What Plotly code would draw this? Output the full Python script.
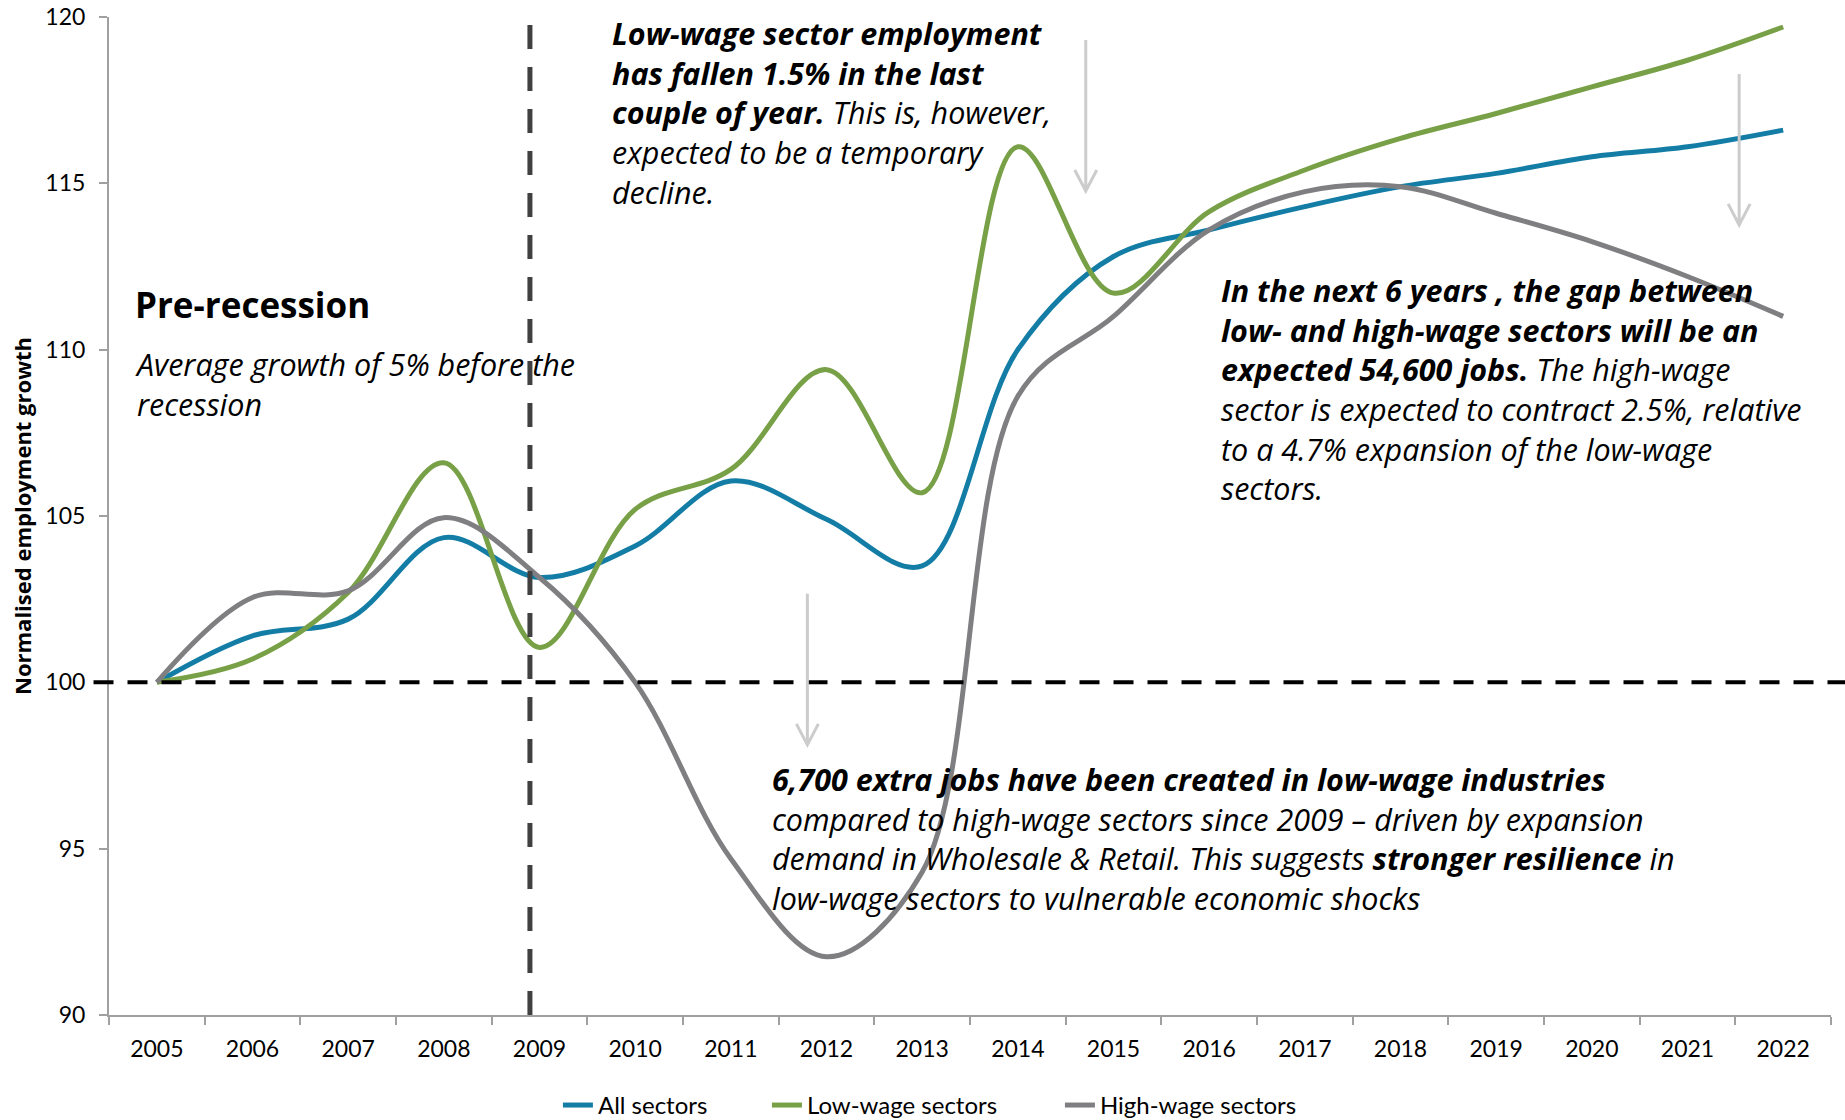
import plotly.graph_objects as go

# Normalised employment index (2005 = 100) and projections to 2022
years = [str(y) for y in range(2005, 2023)]
all_sectors = [100.0, 101.4, 101.9, 104.35, 103.15, 104.1, 106.05, 104.9, 103.5,
               110.0, 112.8, 113.6, 114.3, 114.9, 115.3, 115.8, 116.1, 116.6]
low_wage = [100.0, 100.7, 102.7, 106.6, 101.05, 105.2, 106.4, 109.4, 105.7,
            116.1, 111.7, 114.15, 115.4, 116.35, 117.1, 117.9, 118.7, 119.7]
high_wage = [100.0, 102.55, 102.75, 104.95, 103.15, 100.0, 94.7, 91.75, 94.3,
             108.6, 111.0, 113.6, 114.75, 114.9, 114.1, 113.25, 112.2, 111.0]

series_names = ["All sectors", "Low-wage sectors", "High-wage sectors"]
series_values = [all_sectors, low_wage, high_wage]
series_colors = ["#137DA6", "#78A046", "#7F7F82"]
legend_widths = [164, 248, 215]

TEXT_FONT = "Open Sans"
AXIS_FONT = "Lato"

fig = go.Figure()
for name, vals, col, lw in zip(series_names, series_values, series_colors, legend_widths):
    fig.add_trace(go.Scatter(
        x=years, y=vals, name=name, mode="lines",
        line=dict(color=col, width=5, shape="spline", smoothing=1.0),
        legendwidth=lw,
        hoverinfo="x+y+name",
    ))

# Reference lines: 2005 baseline and start of recession
fig.add_shape(type="line", xref="paper", yref="y", x0=-0.009, x1=1.01, y0=100, y1=100,
              line=dict(color="#000000", width=4, dash="20px,14px"), layer="above")
fig.add_shape(type="line", xref="x", yref="y", x0=3.9, x1=3.9, y0=90, y1=119.8,
              line=dict(color="#404040", width=5, dash="24px,18px"), layer="above")

# Downward pointer arrows (tip position in data space, drawn in pixels)
arrow_x = [9.71, 16.54, 6.80]
arrow_tip = [114.77, 113.75, 98.12]
for ax_, ay_ in zip(arrow_x, arrow_tip):
    fig.add_shape(type="path", xref="x", yref="y",
                  xsizemode="pixel", ysizemode="pixel",
                  xanchor=ax_, yanchor=ay_,
                  path="M 0,151 L 0,0 M -11,21 L 0,0 L 11,21",
                  line=dict(color="#CCCCCC", width=3))

ann_font = dict(family=TEXT_FONT, size=30.5, color="#000000")

fig.add_annotation(xref="paper", yref="paper", x=0.0139, y=0.737, xanchor="left", yanchor="top",
                   text="<b>Pre-recession</b>", showarrow=False, align="left",
                   font=dict(family=TEXT_FONT, size=35, color="#000000"))
fig.add_annotation(xref="paper", yref="paper", x=0.0139, y=0.675, xanchor="left", yanchor="top",
                   text="<i>Average growth of 5% before the<br>recession</i>",
                   showarrow=False, align="left", font=ann_font)
fig.add_annotation(xref="paper", yref="paper", x=0.2907, y=1.007, xanchor="left", yanchor="top",
                   text=("<b><i>Low-wage sector employment<br>has fallen 1.5% in the last<br>"
                         "couple of year.</i></b><i> This is, however,<br>expected to be a temporary<br>"
                         "decline.</i>"),
                   showarrow=False, align="left", font=ann_font)
fig.add_annotation(xref="paper", yref="paper", x=0.6446, y=0.749, xanchor="left", yanchor="top",
                   text=("<b><i>In the next 6 years , the gap between<br>low- and high-wage sectors will be an<br>"
                         "expected 54,600 jobs.</i></b><i> The high-wage<br>sector is expected to contract 2.5%, relative<br>"
                         "to a 4.7% expansion of the low-wage<br>sectors.</i>"),
                   showarrow=False, align="left", font=ann_font)
fig.add_annotation(xref="paper", yref="paper", x=0.3836, y=0.260, xanchor="left", yanchor="top",
                   text=("<b><i>6,700 extra jobs have been created in low-wage industries</i></b><br>"
                         "<i>compared to high-wage sectors since 2009 – driven by expansion<br>"
                         "demand in Wholesale &amp; Retail. This suggests <b>stronger resilience</b> in<br>"
                         "low-wage sectors to vulnerable economic shocks</i>"),
                   showarrow=False, align="left", font=ann_font)

axis_col = "#A0A0A0"
fig.update_xaxes(
    type="category", range=[-0.5, 17.5], tickson="boundaries",
    ticks="outside", ticklen=8, tickwidth=2, tickcolor=axis_col,
    showline=True, linecolor=axis_col, linewidth=2, showgrid=False, zeroline=False,
    ticklabelstandoff=12,
    tickfont=dict(family=AXIS_FONT, size=23, color="#000000"),
)
fig.update_yaxes(
    range=[90, 120], dtick=5, tick0=90,
    ticks="outside", ticklen=8, tickwidth=2, tickcolor=axis_col,
    showline=True, linecolor=axis_col, linewidth=2, showgrid=False, zeroline=False,
    ticklabelstandoff=9,
    tickfont=dict(family=AXIS_FONT, size=23, color="#000000"),
    title=dict(text="<b>Normalised employment growth</b>", standoff=8,
               font=dict(family=TEXT_FONT, size=22, color="#000000", weight="bold")),
)

fig.update_layout(
    width=1845, height=1120,
    margin=dict(l=109, r=14, t=17, b=105, autoexpand=False),
    paper_bgcolor="white", plot_bgcolor="white",
    showlegend=True,
    legend=dict(orientation="h", xref="container", yref="container",
                x=0.3024, xanchor="left", y=0.013, yanchor="middle",
                font=dict(family=AXIS_FONT, size=24, color="#000000"),
                bgcolor="rgba(0,0,0,0)"),
)

fig.write_html("out.html")
